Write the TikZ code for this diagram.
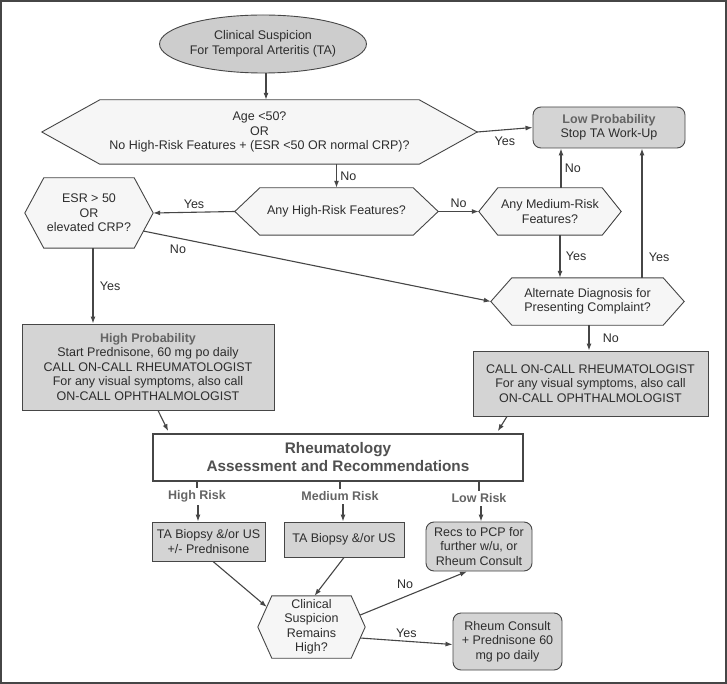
\documentclass[tikz,border=0pt]{standalone}
\usepackage{fontspec}
\setmainfont{Liberation Sans}
\usetikzlibrary{positioning}
\usetikzlibrary{arrows.meta}
\usetikzlibrary{shapes.geometric}
\definecolor{boxgray}{RGB}{212,212,212}
\definecolor{ellgray}{RGB}{205,205,205}
\definecolor{hexwhite}{RGB}{246,246,246}
\definecolor{linegray}{RGB}{70,70,70}
\definecolor{textdark}{RGB}{45,45,45}
\definecolor{headgray}{RGB}{100,100,100}
\pgfdeclarelayer{hexlayer}
\pgfsetlayers{hexlayer,main}
% hexagon round a named node, #2 = how far the points stick out
\newcommand{\hexoutline}[2]{%
  \begin{pgfonlayer}{hexlayer}
    \draw[hexline] ([xshift=#2]#1.north west) -- ([xshift=-#2]#1.north east) -- (#1.east)
      -- ([xshift=-#2]#1.south east) -- ([xshift=#2]#1.south west) -- (#1.west) -- cycle;
  \end{pgfonlayer}}

\begin{document}
\begin{tikzpicture}[x=1pt, y=-1pt,
    every node/.style={font=\fontsize{12.5}{14.5}\selectfont, text=textdark},
    decision/.style={align=center, inner sep=0pt},
    hexline/.style={draw=linegray, fill=hexwhite, line width=0.9pt},
    block/.style={rectangle, draw=linegray, fill=boxgray, line width=0.9pt,
                  align=center, inner sep=0pt},
    rblock/.style={block, rounded corners=8pt},
    risk/.style={font=\fontsize{12.5}{14.5}\selectfont\bfseries, text=headgray},
    arrow/.style={-{Latex[length=7pt,width=5pt]}, line width=1.1pt, draw=linegray}
]
    \begin{pgfonlayer}{hexlayer}
      \fill[white] (0,0) rectangle (727,684);
    \end{pgfonlayer}
    \useasboundingbox (0,0) rectangle (727,684);
    \draw[line width=2pt, draw=linegray] (1,1) rectangle (726,683);

    \node[ellipse, draw=linegray, fill=ellgray, line width=0.9pt, minimum width=206pt,
          minimum height=58pt, inner sep=0pt, align=center] (start) at (263,44)
          {Clinical Suspicion\\For Temporal Arteritis (TA)};

    \node[decision, minimum width=435pt, minimum height=64pt] (agecheck) at (259.5,132)
          {Age <50?\\OR\\No High-Risk Features + (ESR <50 OR normal CRP)?};
    \node[rblock, minimum width=152pt, minimum height=41pt] (lowprob) at (609,127.5)
          {{\bfseries\color{headgray}Low Probability}\\Stop TA Work-Up};

    \node[decision, minimum width=203pt, minimum height=47pt] (highrisk) at (336.5,211.5)
          {Any High-Risk Features?};
    \node[decision, minimum width=128pt, minimum height=70pt] (esrcheck) at (89,213)
          {ESR > 50\\OR\\elevated CRP?};
    \node[decision, minimum width=142pt, minimum height=47pt] (medrisk) at (550,211.5)
          {Any Medium-Risk\\Features?};
    \node[decision, minimum width=193pt, minimum height=47pt] (altdiag) at (587.5,301.5)
          {Alternate Diagnosis for\\Presenting Complaint?};

    \node[block, minimum width=252pt, minimum height=86pt] (highprob) at (148,367)
          {{\bfseries\color{headgray}High Probability}\\Start Prednisone, 60 mg po daily\\
           CALL ON-CALL RHEUMATOLOGIST\\For any visual symptoms, also call\\ON-CALL OPHTHALMOLOGIST};
    \node[block, minimum width=235pt, minimum height=65pt] (callrheum) at (590.5,383.5)
          {CALL ON-CALL RHEUMATOLOGIST\\For any visual symptoms, also call\\ON-CALL OPHTHALMOLOGIST};

    \node[block, fill=white, line width=1.6pt, minimum width=370pt, minimum height=47pt,
          font=\fontsize{15.3}{18}\selectfont\bfseries, text=headgray!80!black] (assess) at (338,457.5)
          {Rheumatology\\Assessment and Recommendations};

    \node[risk] (highlbl) at (197,496) {High Risk};
    \node[risk] (medlbl) at (340,496) {Medium Risk};
    \node[risk] (lowlbl) at (479,498) {Low Risk};

    \node[block, minimum width=113pt, minimum height=39pt] (biopsyhigh) at (208.5,541.5)
          {TA Biopsy \&/or US\\+/- Prednisone};
    \node[block, minimum width=120pt, minimum height=35pt] (biopsymed) at (344,539.5)
          {TA Biopsy \&/or US};
    \node[rblock, minimum width=106pt, minimum height=49pt] (recs) at (479,546.5)
          {Recs to PCP for\\further w/u, or\\Rheum Consult};
    \node[decision, minimum width=107pt, minimum height=62pt] (suspicion) at (311.5,627)
          {Clinical\\Suspicion\\Remains\\High?};
    \node[rblock, minimum width=109pt, minimum height=57pt] (consult) at (507.5,641.5)
          {Rheum Consult\\+ Prednisone 60\\mg po daily};

    \foreach \n/\d in {agecheck/58pt, highrisk/25pt, esrcheck/19pt, medrisk/19pt,
                       altdiag/21pt, suspicion/14pt}
      \hexoutline{\n}{\d};

    \draw[arrow] ([xshift=3pt]start.south) -- ([xshift=3pt]start.south |- agecheck.north);
    \draw[arrow] (agecheck.east) -- node[below=3pt] {Yes} (lowprob.west);
    \draw[arrow] (highrisk.north |- agecheck.south) -- node[right] {No} (highrisk.north);
    \draw[arrow] (highrisk.west) -- node[above] {Yes} (esrcheck.east);
    \draw[arrow] (highrisk.east) -- node[above] {No} (medrisk.west);
    \draw[arrow] ([xshift=11pt]medrisk.north) -- node[right] {No}
                 ([xshift=11pt]medrisk.north |- lowprob.south);
    \draw[arrow] ([xshift=10pt]medrisk.south) -- node[right=2pt] {Yes}
                 ([xshift=10pt]medrisk.south |- altdiag.north);
    \draw[arrow] ([xshift=33pt]lowprob.south |- altdiag.north) -- node[pos=0.16, right=3pt] {Yes}
                 ([xshift=33pt]lowprob.south);
    \draw[arrow] ([xshift=-10pt,yshift=-18pt]esrcheck.east) -- node[pos=0.1, below=3pt] {No}
                 (altdiag.west);
    \draw[arrow] ([xshift=4pt]esrcheck.south) -- node[right=3pt] {Yes}
                 ([xshift=4pt]esrcheck.south |- highprob.north);
    \draw[arrow] ([xshift=1.5pt]altdiag.south) -- node[right=10pt] {No}
                 ([xshift=1.5pt]altdiag.south |- callrheum.north);

    \draw[arrow] ([xshift=10pt]highprob.south) -- ([xshift=16pt,yshift=2pt]assess.north west);
    \draw[arrow] ([xshift=-83.5pt]callrheum.south) -- ([xshift=-26pt,yshift=2pt]assess.north east);

    \draw[line width=1.1pt, draw=linegray] (assess.south -| highlbl) -- ([yshift=-1pt]highlbl.north);
    \draw[line width=1.1pt, draw=linegray] (assess.south -| medlbl) -- ([yshift=-1pt]medlbl.north);
    \draw[line width=1.8pt, draw=linegray] (assess.south -| lowlbl) -- ([yshift=-1pt]lowlbl.north);
    \draw[arrow] ([xshift=1pt]highlbl.south) -- ([xshift=1pt]highlbl.south |- biopsyhigh.north);
    \draw[arrow] ([xshift=3pt]medlbl.south) -- ([xshift=3pt]medlbl.south |- biopsymed.north);
    \draw[arrow] ([xshift=2pt]lowlbl.south) -- ([xshift=2pt]lowlbl.south |- recs.north);

    \draw[arrow] ([xshift=4.5pt]biopsyhigh.south) -- ([xshift=9pt,yshift=20pt]suspicion.west);
    \draw[arrow] (biopsymed.south) -- ([xshift=3pt]suspicion.north);
    \draw[arrow] ([xshift=-5pt,yshift=12pt]suspicion.east) -- node[pos=0.42, above=4pt] {No}
                 ([xshift=-12pt]recs.south);
    \draw[arrow] ([xshift=-5pt,yshift=-11pt]suspicion.east) -- node[above] {Yes}
                 ([yshift=-3pt]consult.west);
\end{tikzpicture}
\end{document}
